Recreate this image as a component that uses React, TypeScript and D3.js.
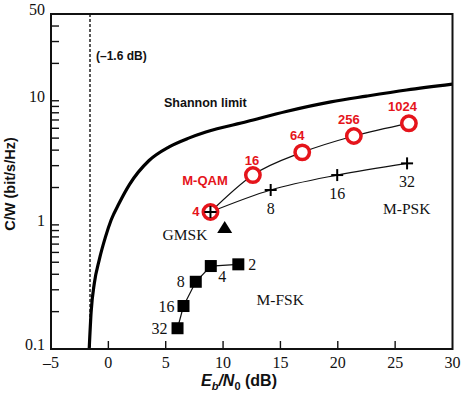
import React from 'react';
import * as d3 from 'd3';

const width = 467;
const height = 397;
const margin = { top: 14, right: 14.5, bottom: 48, left: 51 };

// Shannon limit
const shannonEbN0 = [-1.67, -1.5, -1.22, -0.8, -0.25, 0.25, 0.95, 1.85, 3.55, 5.3, 7.0, 8.5, 12.1, 15.5, 19.4, 22.5, 26.0, 30.0];
const shannonRate = [0.1, 0.2, 0.34, 0.52, 0.8, 1.1, 1.5, 2.12, 3.3, 4.25, 5.0, 5.6, 6.8, 8.2, 9.8, 10.9, 12.2, 13.6];

const qamLabels = ['4', '16', '64', '256', '1024'];
const qamEbN0 = [8.9, 12.6, 16.9, 21.4, 26.2];
const qamRate = [1.27, 2.52, 3.84, 5.2, 6.58];

const pskLabels = ['4', '8', '16', '32'];
const pskEbN0 = [8.9, 14.15, 19.95, 26.04];
const pskRate = [1.27, 1.91, 2.52, 3.13];

const fskLabels = ['2', '4', '8', '16', '32'];
const fskEbN0 = [11.33, 8.93, 7.62, 6.55, 6.03];
const fskRate = [0.481, 0.466, 0.348, 0.222, 0.147];

const gmskEbN0 = 10.14;
const gmskRate = 0.954;

const xTicks = [-5, 0, 5, 10, 15, 20, 25, 30];
const yTickLabels = [0.1, 1, 10, 50];

const RED = '#e5141b';
const serif = '"Liberation Serif", "Times New Roman", serif';
const sans = '"Liberation Sans", Arial, sans-serif';

// label offsets from the marker (dx, dy, anchor)
const qamOff: [number, number, string][] = [[-11, 4.5, 'end'], [-1, -10, 'middle'], [-5, -12, 'middle'], [-5, -12, 'middle'], [-6.5, -12, 'middle']];
const pskOff: [number, number, string][] = [[0, 0, 'middle'], [0, 24, 'middle'], [0, 24, 'middle'], [0, 24, 'middle']];
const fskOff: [number, number, string][] = [[10, 5.5, 'start'], [11.5, 16, 'middle'], [-11, 5.5, 'end'], [-9, 6, 'end'], [-10, 6, 'end']];

export default function App() {
  const x = d3.scaleLinear().domain([-5, 30]).range([margin.left, width - margin.right]);
  const y = d3.scaleLog().domain([0.1, 50]).range([height - margin.bottom, margin.top]);
  const x0 = margin.left;
  const x1 = width - margin.right;
  const y0 = height - margin.bottom;
  const y1 = margin.top;

  const yMinor: number[] = [];
  [0.1, 1, 10].forEach((dec) => {
    for (let k = 1; k <= 9; k++) {
      const v = dec * k;
      if (v > 0.1 && v < 50) yMinor.push(v);
    }
  });

  const smooth = d3
    .line<[number, number]>()
    .x((d) => x(d[0]))
    .y((d) => y(d[1]))
    .curve(d3.curveMonotoneX);
  const straight = d3
    .line<[number, number]>()
    .x((d) => x(d[0]))
    .y((d) => y(d[1]));

  const shannon = shannonEbN0.map((e, i) => [e, shannonRate[i]] as [number, number]);
  const qam = qamEbN0.map((e, i) => [e, qamRate[i]] as [number, number]);
  const psk = pskEbN0.map((e, i) => [e, pskRate[i]] as [number, number]);
  const fsk = fskEbN0.map((e, i) => [e, fskRate[i]] as [number, number]);

  const gx = x(gmskEbN0);
  const gy = y(gmskRate);

  return (
    <svg width={width} height={height} style={{ position: 'absolute', left: 0, top: 0, background: '#fff' }}>
      <defs>
        <clipPath id="plot">
          <rect x={x0} y={y1} width={x1 - x0} height={y0 - y1} />
        </clipPath>
      </defs>

      {/* ticks */}
      {yMinor.map((v) => (
        <line key={'yt' + v} x1={x0} x2={x0 + 8} y1={y(v)} y2={y(v)} stroke="#111" strokeWidth={1.4} />
      ))}
      {xTicks.slice(1, -1).map((v) => (
        <line key={'xt' + v} x1={x(v)} x2={x(v)} y1={y0} y2={y0 - 8} stroke="#111" strokeWidth={1.4} />
      ))}

      {/* dashed -1.6 dB line */}
      <line x1={x(-1.6)} x2={x(-1.6)} y1={y1} y2={y0} stroke="#111" strokeWidth={1.4} strokeDasharray="3,2" />
      <text x={x(-1.6) + 6} y={59.5} fontFamily={sans} fontWeight="bold" fontSize={12} fill="#111">
        (–1.6 dB)
      </text>

      {/* Shannon limit */}
      <path d={smooth(shannon) || ''} fill="none" stroke="#000" strokeWidth={3.2} clipPath="url(#plot)" />
      <text x={164} y={106.5} fontFamily={sans} fontWeight="bold" fontSize={12.5} fill="#111">
        Shannon limit
      </text>

      {/* connecting lines */}
      <path d={smooth(qam) || ''} fill="none" stroke="#111" strokeWidth={1.2} />
      <path d={smooth(psk) || ''} fill="none" stroke="#111" strokeWidth={1.2} />
      <path d={straight(fsk) || ''} fill="none" stroke="#111" strokeWidth={1.2} />

      {/* M-QAM circles */}
      {qam.map((d, i) => (
        <circle key={'q' + i} cx={x(d[0])} cy={y(d[1])} r={7.2} fill="#fff" stroke={RED} strokeWidth={3.5} />
      ))}
      {qam.map((d, i) => (
        <text
          key={'ql' + i}
          x={x(d[0]) + qamOff[i][0]}
          y={y(d[1]) + qamOff[i][1]}
          textAnchor={qamOff[i][2] as any}
          fontFamily={sans}
          fontWeight="bold"
          fontSize={13}
          fill={RED}
        >
          {qamLabels[i]}
        </text>
      ))}
      <text x={205} y={185} textAnchor="middle" fontFamily={sans} fontWeight="bold" fontSize={13} fill={RED}>
        M-QAM
      </text>

      {/* M-PSK plus markers */}
      {psk.map((d, i) => (
        <g key={'p' + i} transform={`translate(${x(d[0])},${y(d[1])})`}>
          <line x1={-6} x2={6} y1={0} y2={0} stroke="#000" strokeWidth={2} />
          <line x1={0} x2={0} y1={-6} y2={6} stroke="#000" strokeWidth={2} />
        </g>
      ))}
      {psk.slice(1).map((d, j) => {
        const i = j + 1;
        return (
          <text
            key={'pl' + i}
            x={x(d[0]) + pskOff[i][0]}
            y={y(d[1]) + pskOff[i][1]}
            textAnchor={pskOff[i][2] as any}
            fontFamily={serif}
            fontSize={16}
            fill="#111"
          >
            {pskLabels[i]}
          </text>
        );
      })}
      <text x={406.7} y={214} textAnchor="middle" fontFamily={serif} fontSize={15.5} fill="#111">
        M-PSK
      </text>

      {/* GMSK */}
      <path d={`M${gx},${gy - 6.5}L${gx + 7.5},${gy + 5.5}L${gx - 7.5},${gy + 5.5}Z`} fill="#000" />
      <text x={185} y={240} textAnchor="middle" fontFamily={serif} fontSize={15.5} fill="#111">
        GMSK
      </text>

      {/* M-FSK squares */}
      {fsk.map((d, i) => (
        <rect key={'f' + i} x={x(d[0]) - 6} y={y(d[1]) - 6} width={12} height={12} fill="#000" />
      ))}
      {fsk.map((d, i) => (
        <text
          key={'fl' + i}
          x={x(d[0]) + fskOff[i][0]}
          y={y(d[1]) + fskOff[i][1]}
          textAnchor={fskOff[i][2] as any}
          fontFamily={serif}
          fontSize={16}
          fill="#111"
        >
          {fskLabels[i]}
        </text>
      ))}
      <text x={256.5} y={305} fontFamily={serif} fontSize={15.5} fill="#111">
        M-FSK
      </text>

      {/* frame */}
      <rect x={x0} y={y1} width={x1 - x0} height={y0 - y1} fill="none" stroke="#111" strokeWidth={2} />

      {/* tick labels */}
      {xTicks.map((v) => (
        <text key={'xl' + v} x={x(v)} y={368} textAnchor="middle" fontFamily={serif} fontSize={16} fill="#111">
          {v < 0 ? '–' + Math.abs(v) : v}
        </text>
      ))}
      {yTickLabels.map((v) => (
        <text key={'yl' + v} x={45} y={y(v) + 1} textAnchor="end" fontFamily={serif} fontSize={16} fill="#111">
          {v}
        </text>
      ))}

      {/* axis titles */}
      <text x={201} y={385.5} fontFamily={sans} fontWeight="bold" fontSize={16} fill="#111">
        <tspan fontStyle="italic">E</tspan>
        <tspan fontStyle="italic" fontSize={11} dy={4}>b</tspan>
        <tspan fontStyle="italic" dy={-4}>/N</tspan>
        <tspan fontSize={11} dy={4}>0</tspan>
        <tspan dy={-4}> (dB)</tspan>
      </text>
      <text
        transform="translate(15,184) rotate(-90)"
        textAnchor="middle"
        fontFamily={sans}
        fontWeight="bold"
        fontSize={14.5}
        fill="#111"
      >
        C/W (bit/s/Hz)
      </text>
    </svg>
  );
}
